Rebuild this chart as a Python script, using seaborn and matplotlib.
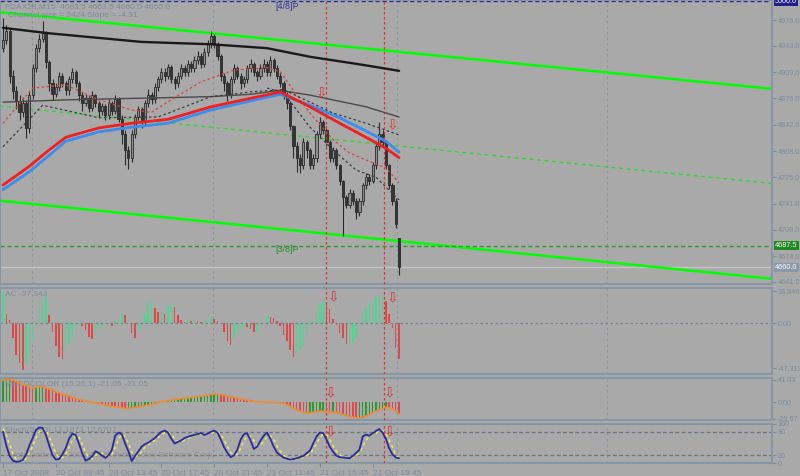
import matplotlib
matplotlib.use("Agg")
import matplotlib.pyplot as plt
import matplotlib.transforms as mtransforms
import seaborn as sns

# ---------------------- DATA ---------------------- #
opens = [4940, 4950, 4962, 4905, 4885, 4872, 4858, 4870, 4838, 4880,
         4915, 4940, 4952, 4960, 4922, 4896, 4882, 4890, 4905, 4895,
         4886, 4900, 4910, 4896, 4880, 4870, 4876, 4864, 4880, 4870,
         4860, 4866, 4855, 4870, 4860, 4875, 4850, 4830, 4810, 4800,
         4830, 4852, 4862, 4845, 4870, 4880, 4875, 4890, 4900, 4910,
         4905, 4916, 4900, 4895, 4905, 4915, 4910, 4920, 4915, 4925,
         4930, 4920, 4935, 4946, 4955, 4945, 4930, 4905, 4895, 4880,
         4900, 4915, 4905, 4895, 4900, 4915, 4920, 4910, 4905, 4915,
         4920, 4910, 4925, 4915, 4905, 4895, 4880, 4870, 4840, 4815,
         4800, 4790, 4820, 4810, 4790, 4800, 4830, 4845, 4835, 4820,
         4800, 4810, 4790, 4770, 4750, 4740, 4755, 4745, 4730, 4745,
         4765, 4775, 4770, 4790, 4815, 4830, 4820, 4790, 4765, 4745,
         4697]
highs = [4978, 4970, 4966, 4912, 4892, 4880, 4878, 4874, 4885, 4920,
         4945, 4958, 4975, 4962, 4925, 4900, 4895, 4910, 4908, 4898,
         4905, 4915, 4912, 4898, 4884, 4882, 4880, 4885, 4882, 4872,
         4870, 4868, 4875, 4872, 4880, 4878, 4855, 4835, 4815, 4835,
         4856, 4866, 4865, 4874, 4888, 4884, 4895, 4905, 4915, 4914,
         4920, 4918, 4905, 4910, 4920, 4918, 4925, 4924, 4930, 4936,
         4934, 4940, 4950, 4962, 4958, 4948, 4932, 4908, 4898, 4904,
         4920, 4917, 4908, 4904, 4918, 4926, 4922, 4912, 4920, 4926,
         4924, 4930, 4928, 4918, 4908, 4898, 4884, 4872, 4842, 4820,
         4805, 4825, 4822, 4812, 4805, 4834, 4852, 4848, 4840, 4822,
         4814, 4812, 4792, 4772, 4752, 4760, 4758, 4748, 4748, 4768,
         4780, 4779, 4794, 4820, 4845, 4835, 4822, 4792, 4767, 4748,
         4697]
lows = [4935, 4945, 4895, 4875, 4862, 4848, 4852, 4825, 4832, 4875,
        4910, 4935, 4948, 4915, 4885, 4874, 4878, 4885, 4890, 4880,
        4880, 4896, 4890, 4872, 4860, 4866, 4858, 4860, 4865, 4852,
        4854, 4848, 4850, 4855, 4856, 4845, 4818, 4790, 4785, 4795,
        4825, 4848, 4838, 4840, 4865, 4868, 4870, 4885, 4895, 4898,
        4900, 4895, 4888, 4890, 4900, 4905, 4905, 4910, 4910, 4920,
        4915, 4916, 4930, 4940, 4940, 4925, 4898, 4885, 4872, 4876,
        4895, 4900, 4888, 4890, 4895, 4910, 4905, 4898, 4900, 4910,
        4905, 4905, 4910, 4900, 4890, 4875, 4862, 4835, 4800, 4782,
        4780, 4785, 4800, 4785, 4786, 4795, 4825, 4830, 4815, 4795,
        4795, 4785, 4765, 4700, 4735, 4735, 4740, 4722, 4725, 4740,
        4760, 4765, 4768, 4785, 4810, 4815, 4785, 4760, 4740, 4710,
        4650]
closes = [4950, 4962, 4905, 4885, 4872, 4858, 4870, 4838, 4880, 4915,
          4940, 4952, 4960, 4922, 4896, 4882, 4890, 4905, 4895, 4886,
          4900, 4910, 4896, 4880, 4870, 4876, 4864, 4880, 4870, 4860,
          4866, 4855, 4870, 4860, 4875, 4850, 4830, 4810, 4800, 4830,
          4852, 4862, 4845, 4870, 4880, 4875, 4890, 4900, 4910, 4905,
          4916, 4900, 4895, 4905, 4915, 4910, 4920, 4915, 4925, 4930,
          4920, 4935, 4946, 4955, 4945, 4930, 4905, 4895, 4880, 4900,
          4915, 4905, 4895, 4900, 4915, 4920, 4910, 4905, 4915, 4920,
          4910, 4925, 4915, 4905, 4895, 4880, 4870, 4840, 4815, 4800,
          4790, 4820, 4810, 4790, 4800, 4830, 4845, 4835, 4820, 4800,
          4810, 4790, 4770, 4750, 4740, 4755, 4745, 4730, 4745, 4765,
          4775, 4770, 4790, 4815, 4830, 4820, 4790, 4765, 4745, 4715,
          4660]

ac_vals = [33, 10, 3, -16, -33, -42, -49, -42, -33, -19,
           0, 16, 24, 30, 9, -9, -24, -35, -38, -30,
           -21, -14, -7, -1, -3, -7, -14, -17, -10, -7,
           -3, -2, -2, -2.5, 2, 4, 10, 9, 0.5, -10,
           -16, -9, -5, 10, 21, 23, 16, 12, 12, 10,
           19, 20, 17, 9, 4, 1, 3, 2, 4, 2,
           1, 2, 4, 7, 5, 2, 0.5, -9, -19, -23,
           -16, -10, -7, -3, -4, -6, -9, -9, -3, 0.5,
           8, 7, 6, 2, -3, -12, -19, -28, -35, -31,
           -28, -24, -12, 1, 2, 12, 21, 24, 21, 15,
           5, -2, -10, -16, -22, -21, -21, -14, 1, 10,
           16, 21, 24, 28, 30, 30, 24, 10, -5, -26,
           -37.3]

macd_vals = [40, 41, 41, 40, 38, 35, 32, 30, 27, 26,
             27, 28, 28, 26, 24, 22, 19, 17, 15, 13,
             11, 9, 7, 5, 4, 2, 1, 0, -1, -2,
             -3, -5, -6, -7, -8, -9, -10, -11, -11, -10,
             -9, -8, -7, -6, -5, -4, -2, 0, 1, 2,
             3, 4, 5, 6, 7, 7, 8, 9, 10, 11,
             11, 12, 13, 14, 15, 15, 14, 13, 11, 10,
             9, 8, 6, 5, 4, 3, 2, 1, 1, 0,
             0, 0, 0, -1, -1, -2, -4, -7, -11, -14,
             -16, -18, -19, -19, -18, -17, -16, -16, -17, -18,
             -18, -19, -20, -22, -24, -26, -27, -28, -28, -27,
             -25, -22, -19, -16, -13, -11, -9, -10, -12, -16,
             -21.05]

stoch_main = [80, 45, 18, 6, 3, 4, 8, 22, 45, 64,
              85, 91, 90, 72, 45, 20, 9, 10, 22, 38,
              62, 75, 72, 50, 25, 6, 10, 17, 30, 26,
              19, 13, 20, 34, 70, 78, 74, 50, 30, 5,
              18, 30, 42, 48, 52, 58, 64, 72, 80, 83,
              78, 62, 50, 54, 58, 64, 67, 70, 72, 74,
              77, 72, 75, 80, 83, 78, 60, 40, 26, 15,
              20, 34, 60, 74, 76, 58, 36, 42, 57, 70,
              78, 62, 42, 27, 20, 14, 11, 9, 10, 12,
              15, 18, 25, 32, 50, 68, 78, 77, 60, 42,
              29, 19, 15, 14, 13, 12, 18, 26, 34, 68,
              73, 70, 76, 82, 87, 78, 62, 38, 22, 14,
              12.2]
stoch_signal = [88, 70, 48, 23, 9, 4, 5, 11, 25, 44,
                65, 80, 89, 84, 69, 46, 25, 13, 14, 23,
                41, 58, 70, 66, 49, 27, 14, 11, 19, 24,
                25, 19, 17, 22, 41, 61, 74, 67, 51, 28,
                18, 18, 30, 40, 47, 53, 58, 65, 72, 78,
                80, 74, 63, 55, 54, 59, 63, 67, 70, 72,
                74, 74, 75, 76, 79, 80, 74, 59, 42, 27,
                20, 23, 38, 56, 70, 69, 57, 45, 45, 56,
                68, 70, 61, 44, 30, 20, 15, 11, 10, 10,
                12, 15, 19, 25, 36, 50, 65, 74, 72, 60,
                44, 30, 21, 16, 14, 13, 14, 19, 26, 43,
                58, 70, 73, 76, 82, 82, 76, 59, 41, 20,
                12.7]

# moving averages, read at a few bars
ma_black_bars = [0, 14, 42, 63, 80, 93, 110, 120]
ma_black = [4966, 4959, 4948, 4945, 4940, 4929, 4918, 4911]
ma_gray_bars = [0, 20, 42, 63, 75, 84, 93, 110, 120]
ma_gray = [4871, 4874, 4876, 4878, 4881, 4886, 4880, 4865, 4852]
ema_bars = [0, 8, 14, 19, 29, 39, 50, 63, 84, 93, 102, 110, 116, 120]
ema_red = [4765, 4789, 4810, 4826, 4838, 4844, 4849, 4865, 4884, 4865, 4844, 4826, 4812, 4800]
ema_blue = [4759, 4782, 4803, 4821, 4833, 4839, 4844, 4861, 4881, 4867, 4851, 4834, 4821, 4807]
dot_red_bars = [0, 9, 19, 29, 39, 45, 51, 60, 70, 80, 84, 88, 93, 100, 105, 110, 116, 120]
dot_red = [4844, 4889, 4893, 4874, 4861, 4858, 4874, 4897, 4912, 4915, 4910, 4886, 4857, 4823, 4806, 4797, 4787, 4768]
dot_gray_bars = [0, 12, 29, 47, 63, 75, 85, 100, 110, 120]
dot_gray = [4814, 4867, 4851, 4852, 4878, 4884, 4887, 4857, 4844, 4829]
dot_gray2_bars = [80, 85, 93, 100, 107, 113, 120]
dot_gray2 = [4889, 4883, 4839, 4810, 4784, 4775, 4746]

# regression channel (ends) and murrey levels
chan_bars = [-1, 233]
chan_upper = [4986, 4888]
chan_mid = [4866, 4767]
chan_lower = [4745, 4645]
level_48 = 5000.0
level_38 = 4687.5
last_price = 4660.0

price_ticks = [4976, 4943, 4909, 4876, 4842, 4808, 4775, 4741, 4708, 4674, 4641]
time_ticks = [0, 16, 32, 48, 64, 80, 96, 112]
time_labels = ["17 Oct 2008", "20 Oct 09:45", "20 Oct 13:45", "20 Oct 17:45",
               "20 Oct 21:45", "21 Oct 11:45", "21 Oct 15:45", "21 Oct 19:45"]
grid_bars = [8.8, 63.6, 119.4, 183.0]
signal_bars = [98, 115.5]

# ---------------------- STYLE ---------------------- #
BG = "#a9a9a9"
EDGE = "#8795a6"
TXT = "#7c8ca0"
sns.set_theme(style="dark", rc={"axes.facecolor": BG, "figure.facecolor": BG,
                                "axes.edgecolor": EDGE, "axes.linewidth": 1.5})
plt.rcParams["font.family"] = ["Liberation Sans", "DejaVu Sans"]
FS = 5.2

W, H = 800, 476
fig = plt.figure(figsize=(8, 4.76), dpi=100)


def panel(top, bottom):
    ax = fig.add_axes([0, 1 - bottom / H, 772 / W, (bottom - top) / H])
    ax.set_xlim(-0.91, 233.0)
    ax.tick_params(axis="y", left=False, labelleft=False, right=True, labelright=True,
                   colors=TXT, labelsize=FS, length=3, width=0.8, pad=1)
    ax.tick_params(axis="x", bottom=False, labelbottom=False)
    for b in grid_bars:
        ax.axvline(b, color="#8a93a0", lw=0.8, ls=(0, (2, 3)), zorder=0)
    for b in signal_bars:
        ax.axvline(b, color="#e03030", lw=0.9, ls=(0, (2, 2)), zorder=5)
    return ax


def arrow(ax, b, v):
    ax.text(b, v, "\u21e9", color="#e83030", fontsize=10, ha="center", va="center",
            family="DejaVu Sans", zorder=7)


ax_main = panel(0, 284)
ax_ac = panel(288, 374)
ax_macd = panel(378, 420)
ax_st = panel(424, 463)

# ---------------------- MAIN: CANDLES + LINES ---------------------- #
ax = ax_main
ax.set_ylim(4638.4, 5001.6)
bars = list(range(len(closes)))
ax.vlines(bars, lows, highs, color="#2a2a2a", lw=0.8, zorder=3)
body_lo = [min(o, c) for o, c in zip(opens, closes)]
body_h = [max(abs(c - o), 1.0) for o, c in zip(opens, closes)]
body_fc = ["#8e8e8e" if c >= o else "#363636" for o, c in zip(opens, closes)]
ax.bar(bars, body_h, bottom=body_lo, width=0.65, color=body_fc,
       edgecolor="#2a2a2a", linewidth=0.6, zorder=4)

sns.lineplot(x=chan_bars, y=chan_upper, ax=ax, color="#00ff00", lw=1.8, zorder=2)
sns.lineplot(x=chan_bars, y=chan_lower, ax=ax, color="#00ff00", lw=1.8, zorder=2)
sns.lineplot(x=chan_bars, y=chan_mid, ax=ax, color="#22dd22", lw=0.9, ls=(0, (3, 3)), zorder=2)
sns.lineplot(x=ma_black_bars, y=ma_black, ax=ax, color="#1a1a1a", lw=1.7, zorder=5)
sns.lineplot(x=ma_gray_bars, y=ma_gray, ax=ax, color="#4a4a4a", lw=1, zorder=5)
sns.lineplot(x=ema_bars, y=ema_blue, ax=ax, color="#3a8ef0", lw=2, zorder=5)
sns.lineplot(x=ema_bars, y=ema_red, ax=ax, color="#f02020", lw=2, zorder=6)
sns.lineplot(x=dot_red_bars, y=dot_red, ax=ax, color="#e04040", lw=0.9, ls=(0, (2, 2)), zorder=5)
sns.lineplot(x=dot_gray_bars, y=dot_gray, ax=ax, color="#3c3c3c", lw=0.9, ls=(0, (2, 2)), zorder=5)
sns.lineplot(x=dot_gray2_bars, y=dot_gray2, ax=ax, color="#3c3c3c", lw=0.9, ls=(0, (2, 2)), zorder=5)

ax.axhline(level_48, color="#2a2a90", lw=1, ls=(0, (3, 2)), zorder=2)
ax.axhline(level_38, color="#2e9a2e", lw=1, ls=(0, (3, 2)), zorder=2)
ax.axhline(last_price, color="#c4c4c4", lw=1, zorder=1)
ax.text(82.5, 4993, "[4/8]P", color="#30309a", fontsize=6.5, ha="left", va="center")
ax.text(82.5, 4682, "[3/8]P", color="#2a8a2a", fontsize=6.5, ha="left", va="center")

ax.set_yticks(price_ticks)
ax.set_yticklabels([f"{p:.1f}" for p in price_ticks])
tr = mtransforms.blended_transform_factory(ax.transAxes, ax.transData)
for val, fc in [(level_48, "#1e1e8c"), (level_38, "#1f8a1f"), (last_price, "#8a98aa")]:
    ax.text(1.004, val, f"{val:.1f}", transform=tr, color="white", fontsize=FS,
            ha="left", va="center", clip_on=False,
            bbox=dict(boxstyle="square,pad=0.15", fc=fc, ec="none"))

ax.text(0.007, 0.976, "FDAX28,M15  4663.5 4663.5 4660.0 4660.0", transform=ax.transAxes,
        color=TXT, fontsize=6, ha="left", va="center")
ax.text(0.010, 0.944, "Channel size = 2424 Slope = -4.31", transform=ax.transAxes,
        color=TXT, fontsize=6, ha="left", va="center")
arrow(ax, 96.6, 4884)
arrow(ax, 118, 4842)

# ---------------------- AC ---------------------- #
ax = ax_ac
ax.set_ylim(-53.4, 37.2)
ac_dir = ["up"] + ["up" if b >= a else "down" for a, b in zip(ac_vals[:-1], ac_vals[1:])]
sns.barplot(x=bars, y=ac_vals, hue=ac_dir, palette={"up": "#48d890", "down": "#e04848"},
            native_scale=True, dodge=False, width=0.45, errorbar=None, legend=False,
            saturation=1, linewidth=0, edgecolor="none", ax=ax)
ax.set_xlim(-0.91, 233.0)
ax.axhline(0, color="#7a8494", lw=0.9, ls=(0, (2, 2)), zorder=1)
ax.set_yticks([33.846, 0, -47.313])
ax.set_yticklabels(["33.846", "0.00", "-47.313"])
ax.set_ylabel("")
ax.text(0.006, 0.93, "AC -37.343", transform=ax.transAxes, color=TXT, fontsize=6, va="center")
arrow(ax, 100, 28.7)
arrow(ax, 118, 27.4)

# ---------------------- MACD ---------------------- #
ax = ax_macd
ax.set_ylim(-32, 44)
macd_dir = ["up"] + ["up" if b >= a else "down" for a, b in zip(macd_vals[:-1], macd_vals[1:])]
sns.barplot(x=bars, y=macd_vals, hue=macd_dir, palette={"up": "#2e9a2e", "down": "#e04848"},
            native_scale=True, dodge=False, width=0.45, errorbar=None, legend=False,
            saturation=1, linewidth=0, edgecolor="none", ax=ax)
sns.lineplot(x=bars, y=macd_vals, ax=ax, color="#f08a30", lw=1.2, zorder=5)
ax.set_xlim(-0.91, 233.0)
ax.set_yticks([41.03, 0, -29.67])
ax.set_yticklabels(["41.03", "0.00", "-29.67"])
ax.set_ylabel("")
ax.text(0.006, 0.84, "MACDCOLOR (15,26,1) -21.05 -21.05", transform=ax.transAxes,
        color=TXT, fontsize=6, va="center")
arrow(ax, 99.3, 17.4)
arrow(ax, 117, 17.4)

# ---------------------- STOCHASTIC ---------------------- #
ax = ax_st
ax.set_ylim(0, 100)
ax.axhline(80, color="#6a7380", lw=0.9, ls=(0, (3, 2)), zorder=1)
ax.axhline(20, color="#6a7380", lw=0.9, ls=(0, (3, 2)), zorder=1)
sns.lineplot(x=bars, y=stoch_signal, ax=ax, color="#f0f040", lw=1.1, ls=(0, (2, 2)), zorder=4)
sns.lineplot(x=bars, y=stoch_main, ax=ax, color="#2a2aa0", lw=1.3, zorder=5)
ax.set_yticks([100, 80, 20, 0])
ax.set_yticklabels(["100", "80", "20", "0"])
ax.text(0.006, 0.83, "Stoch(5,3,3) 12.1873 12.6707", transform=ax.transAxes,
        color=TXT, fontsize=6, va="center")
ax.text(0.012, 0.2, "MetaTrader 4\u00a9 2001-2008 MetaQuotes Software Corp.", transform=ax.transAxes,
        color="#8e8e8e", fontsize=6, va="center")
arrow(ax, 99.3, 80)
arrow(ax, 117, 80)

ax.set_xticks(time_ticks)
ax.set_xticklabels(time_labels, ha="left")
ax.tick_params(axis="x", bottom=True, labelbottom=True, colors=TXT, labelsize=6,
               length=3, width=0.8, pad=2)

fig.savefig("out.png", dpi=100, facecolor=BG)
